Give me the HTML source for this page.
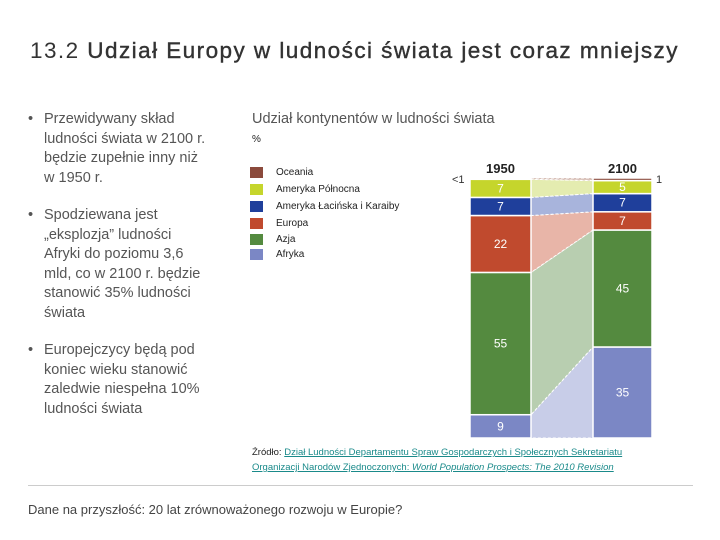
<!DOCTYPE html>
<html><head><meta charset="utf-8"><style>
body{margin:0;width:720px;height:540px;background:#fff;font-family:"Liberation Sans",sans-serif;position:relative;overflow:hidden;color:#444}
.abs{position:absolute}
ul{margin:0;padding:0;list-style:none}
li{position:relative;padding-left:16px;font-size:14.5px;line-height:19.5px;color:#555;margin-bottom:18px;white-space:nowrap}
li:before{content:"•";position:absolute;left:0;top:0}
.leg{font-size:10px;color:#222;height:17px;display:flex;align-items:center}
.sw{width:13px;height:11px;margin-right:13px}
</style></head><body>
<div class="abs" style="left:30px;top:38px;font-size:22.5px;letter-spacing:1.45px;color:#333;white-space:nowrap">13.2 <span style="-webkit-text-stroke:0.4px #333">Udział Europy w ludności świata jest coraz mniejszy</span></div>
<ul class="abs" style="left:28px;top:110px;width:200px">
<li>Przewidywany skład<br>ludności świata w 2100 r.<br>będzie zupełnie inny niż<br>w 1950 r.</li>
<li>Spodziewana jest<br>„eksplozja” ludności<br>Afryki do poziomu 3,6<br>mld, co w 2100 r. będzie<br>stanowić 35% ludności<br>świata</li>
<li>Europejczycy będą pod<br>koniec wieku stanowić<br>zaledwie niespełna 10%<br>ludności świata</li>
</ul>
<div class="abs" style="left:252px;top:111px;font-size:14.5px;color:#555">Udział kontynentów w ludności świata</div>
<div class="abs" style="left:252px;top:134px;font-size:10px;color:#222">%</div>
<div class="abs" style="left:250px;top:164px">
<div class="leg"><div class="sw" style="background:#8b4a3c"></div>Oceania</div>
<div class="leg"><div class="sw" style="background:#c5d52c"></div>Ameryka Północna</div>
<div class="leg"><div class="sw" style="background:#1f3f9b"></div>Ameryka Łacińska i Karaiby</div>
<div class="leg"><div class="sw" style="background:#c04a2e"></div>Europa</div>
<div class="leg" style="height:15px"><div class="sw" style="background:#548a3f"></div>Azja</div>
<div class="leg" style="height:15px"><div class="sw" style="background:#7b87c5"></div>Afryka</div>
</div>
<svg class="abs" style="left:0;top:0" width="720" height="540" id="chart"></svg>
<div class="abs" style="left:252px;top:445px;font-size:9.5px;line-height:15px;color:#222">Źródło: <span style="color:#1a8a8a;text-decoration:underline">Dział Ludności Departamentu Spraw Gospodarczych i Społecznych Sekretariatu<br>Organizacji Narodów Zjednoczonych: <i>World Population Prospects: The 2010 Revision</i></span></div>
<div class="abs" style="left:28px;top:485px;width:665px;height:1px;background:#ccc"></div>
<div class="abs" style="left:28px;top:502px;font-size:13px;color:#444">Dane na przyszłość: 20 lat zrównoważonego rozwoju w Europie?</div>
<script>
const regions=["Afryka","Azja","Europa","Ameryka Łacińska","Ameryka Północna","Oceania"];
const v1950=[9,55,22,7,7,0.5];
const v2100=[35,45,7,7,5,1];
const labels1950=["9","55","22","7","7",""];
const labels2100=["35","45","7","7","5",""];
const colors=["#7b87c5","#548a3f","#c04a2e","#1f3f9b","#c5d52c","#8b4a3c"];
const light=["#c8cde8","#b8ceb0","#e8b5a8","#a8b4dc","#e4ecb0","#d8c0b8"];
const svg=document.getElementById('chart');const NS="http://www.w3.org/2000/svg";
const top0=178,bot=438,H=bot-top0;
const b1={x:470,w:61},b2={x:593,w:59};
function stack(vals){const s=vals.reduce((a,b)=>a+b,0);let y=bot;return vals.map(v=>{const h=v/s*H;const r=[y-h,y];y-=h;return r;});}
const s1=stack(v1950),s2=stack(v2100);
function el(t,a){const e=document.createElementNS(NS,t);for(const k in a)e.setAttribute(k,a[k]);svg.appendChild(e);return e;}
regions.forEach((r,i)=>{
 const p=el('polygon',{points:`${b1.x+b1.w},${s1[i][0]} ${b2.x},${s2[i][0]} ${b2.x},${s2[i][1]} ${b1.x+b1.w},${s1[i][1]}`,fill:light[i],stroke:'#fff','stroke-width':1,'stroke-dasharray':'3,2'});
 
 
 [[b1,s1,labels1950,'1950'],[b2,s2,labels2100,'2100']].forEach(([b,s,lab,yr])=>{
  const rc=el('rect',{x:b.x,y:s[i][0],width:b.w,height:s[i][1]-s[i][0],fill:colors[i],stroke:'#fff','stroke-width':1.5});
  
  
  if(lab[i]){const t=el('text',{x:b.x+b.w/2,y:(s[i][0]+s[i][1])/2+4,'text-anchor':'middle',fill:'#fff','font-size':12,'font-family':'Liberation Sans, sans-serif'});t.textContent=lab[i];
  
  }
 });
});
[[b1,'1950'],[b2,'2100']].forEach(([b,y])=>{const t=el('text',{x:b.x+b.w/2,y:173,'text-anchor':'middle','font-weight':'bold','font-size':13,fill:'#222','font-family':'Liberation Sans, sans-serif'});t.textContent=y;

});
let t=el('text',{x:452,y:183,'font-size':11,fill:'#333','font-family':'Liberation Sans, sans-serif'});t.textContent='<1';


t=el('text',{x:656,y:183,'font-size':11,fill:'#333','font-family':'Liberation Sans, sans-serif'});t.textContent='1';


</script>
</body></html>
